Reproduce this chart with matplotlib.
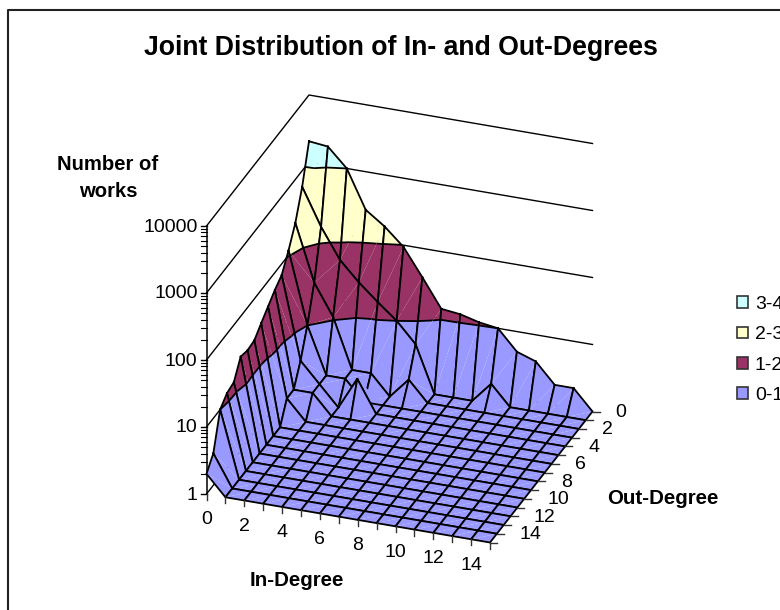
import numpy as np
import matplotlib
matplotlib.use('Agg')
import matplotlib.pyplot as plt
from matplotlib.collections import LineCollection, PolyCollection
from matplotlib.patches import Patch

plt.rcParams['font.family'] = ['Liberation Sans', 'DejaVu Sans']

# works[out_degree][in_degree]
works = [
    [2040, 1900, 1000, 270, 170, 94, 37, 14, 13, 11, 10, 5, 4, 2, 2, 1],
    [575, 162, 58, 30, 17, 10, 5, 1, 1, 1, 2, 1, 1, 1, 1, 1],
    [224, 32, 11, 2, 2, 1, 2, 1, 1, 1, 1, 1, 1, 1, 1, 1],
    [117, 10, 2, 2, 1, 1, 1, 1, 1, 1, 1, 1, 1, 1, 1, 1],
    [68, 4, 2, 1, 3, 1, 1, 1, 1, 1, 1, 1, 1, 1, 1, 1],
    [55, 2, 2, 1, 1, 1, 1, 1, 1, 1, 1, 1, 1, 1, 1, 1],
    [42, 2, 1, 1, 1, 1, 1, 1, 1, 1, 1, 1, 1, 1, 1, 1],
    [32, 1, 1, 1, 1, 1, 1, 1, 1, 1, 1, 1, 1, 1, 1, 1],
    [24, 1, 1, 1, 1, 1, 1, 1, 1, 1, 1, 1, 1, 1, 1, 1],
    [23, 1, 1, 1, 1, 1, 1, 1, 1, 1, 1, 1, 1, 1, 1, 1],
    [25, 1, 1, 1, 1, 1, 1, 1, 1, 1, 1, 1, 1, 1, 1, 1],
    [14, 1, 1, 1, 1, 1, 1, 1, 1, 1, 1, 1, 1, 1, 1, 1],
    [13, 1, 1, 1, 1, 1, 1, 1, 1, 1, 1, 1, 1, 1, 1, 1],
    [10, 1, 1, 1, 1, 1, 1, 1, 1, 1, 1, 1, 1, 1, 1, 1],
    [3, 1, 1, 1, 1, 1, 1, 1, 1, 1, 1, 1, 1, 1, 1, 1],
    [2, 1, 1, 1, 1, 1, 1, 1, 1, 1, 1, 1, 1, 1, 1, 1],
]
band_labels = ['0-1', '1-2', '2-3', '3-4']
band_colors = ['#9999ff', '#993366', '#ffffcc', '#ccffff']
decade_labels = ['1', '10', '100', '1000', '10000']
degree_labels = ['0', '2', '4', '6', '8', '10', '12', '14']

heights = np.log10(np.array(works, dtype=float))
n_out, n_in = heights.shape


def project(i, j, z):
    # oblique projection of (in-degree, out-degree, log10 works) to pixels
    return (309 + i * 283.5 / 15 - j * 102.5 / 15,
            363 + i * 48.5 / 15 + j * 131 / 15 - z * 67)


def clip_poly(pts, level, keep_above):
    out = []
    for a, b in zip(pts, pts[1:] + pts[:1]):
        a_in = a[2] >= level if keep_above else a[2] <= level
        b_in = b[2] >= level if keep_above else b[2] <= level
        if a_in:
            out.append(a)
        if a_in != b_in:
            t = (level - a[2]) / (b[2] - a[2])
            out.append((a[0] + t * (b[0] - a[0]), a[1] + t * (b[1] - a[1]), level))
    return out


def crossing(tri, level):
    found = []
    for a, b in zip(tri, tri[1:] + tri[:1]):
        if (a[2] < level) != (b[2] < level):
            t = (level - a[2]) / (b[2] - a[2])
            found.append(project(a[0] + t * (b[0] - a[0]), a[1] + t * (b[1] - a[1]), level))
    return found


fig = plt.figure(figsize=(7.8, 6.1), dpi=100)
ax = fig.add_axes([0, 0, 1, 1])
ax.set_xlim(0, 780)
ax.set_ylim(610, 0)
ax.axis('off')

# chart frame, its right side runs past the canvas
ax.plot([8, 8, 790], [610, 10, 10], color='#222222', lw=1.5, zorder=1)

# gridlines on the two back walls
for k in range(5):
    wall = [project(0, n_out - 1, k), project(0, 0, k), project(n_in - 1, 0, k)]
    ax.plot(*zip(*wall), color='black', lw=1, zorder=2)

# value axis with log minor ticks
x0, y_low = project(0, n_out - 1, 0)
ax.plot([x0, x0], [y_low, project(0, n_out - 1, 4)[1]], color='black', lw=1.1, zorder=2)
for k in range(5):
    y = project(0, n_out - 1, k)[1]
    ax.plot([x0 - 6, x0], [y, y], color='black', lw=1, zorder=2)
    ax.text(x0 - 9, y + 1, decade_labels[k], ha='right', va='center', fontsize=14)
    if k < 4:
        for m in range(2, 10):
            ym = project(0, n_out - 1, k + np.log10(m))[1]
            ax.plot([x0 - 6, x0], [ym, ym], color='black', lw=0.8, zorder=2)

# surface, painted from the far corner forwards
z = 10
for total in range(n_in + n_out - 3):
    for j in range(n_out - 1):
        i = total - j
        if i < 0 or i >= n_in - 1:
            continue
        corner = lambda a, b: (a, b, heights[b, a])
        tris = [[corner(i, j), corner(i + 1, j), corner(i, j + 1)],
                [corner(i + 1, j), corner(i + 1, j + 1), corner(i, j + 1)]]
        for tri in tris:
            polys, colors = [], []
            for k, col in enumerate(band_colors):
                part = clip_poly(clip_poly(tri, k, True), k + 1, False)
                if len(part) >= 3:
                    polys.append([project(*p) for p in part])
                    colors.append(col)
            ax.add_collection(PolyCollection(polys, facecolors=colors, edgecolors='none',
                                             linewidths=0, zorder=z))
            z += 1
            segs = []
            for level in (1, 2, 3):
                found = crossing(tri, level)
                if len(found) == 2:
                    segs.append(found)
            if segs:
                ax.add_collection(LineCollection(segs, colors='black', linewidths=1.3, zorder=z))
        quad = [corner(i, j), corner(i + 1, j), corner(i + 1, j + 1), corner(i, j + 1), corner(i, j)]
        ax.plot(*zip(*[project(*p) for p in quad]), color='black', lw=1.3,
                solid_joinstyle='round', zorder=z)
        z += 1

# tick marks and labels along the floor edges
for i in range(n_in):
    x, y = project(i, n_out - 1, 0)
    ax.plot([x, x], [y, y + 6], color='#333333', lw=1, zorder=z)
for j in range(n_out):
    x, y = project(n_in - 1, j, 0)
    ax.plot([x, x + 7], [y, y], color='#333333', lw=1, zorder=z)
for n, label in enumerate(degree_labels):
    x, y = project(2 * n, n_out - 1, 0)
    ax.text(x, y + 26, label, ha='center', va='center', fontsize=14)
    x, y = project(n_in - 1, 2 * n, 0)
    ax.text(x + 23, y + 1, label, ha='left', va='center', fontsize=14)

ax.text(401, 48, 'Joint Distribution of In- and Out-Degrees', ha='center', va='center',
        fontsize=19.2, fontweight='bold')
ax.text(108, 178, 'Number of\nworks', ha='center', va='center', fontsize=14.6,
        fontweight='bold', linespacing=1.55)
ax.text(297, 580, 'In-Degree', ha='center', va='center', fontsize=14.8, fontweight='bold')
ax.text(663, 498, 'Out-Degree', ha='center', va='center', fontsize=14.8, fontweight='bold')

handles = [Patch(facecolor=c, edgecolor='#333333', lw=1.2, label=l)
           for c, l in zip(band_colors[::-1], band_labels[::-1])]
ax.legend(handles=handles, loc='center left', bbox_to_anchor=(737 / 780, 1 - 350 / 610),
          frameon=False, fontsize=14, handlelength=0.565, handleheight=0.565,
          handletextpad=0.36, labelspacing=0.68, borderpad=0, borderaxespad=0)

fig.savefig('out.png', dpi=100)
